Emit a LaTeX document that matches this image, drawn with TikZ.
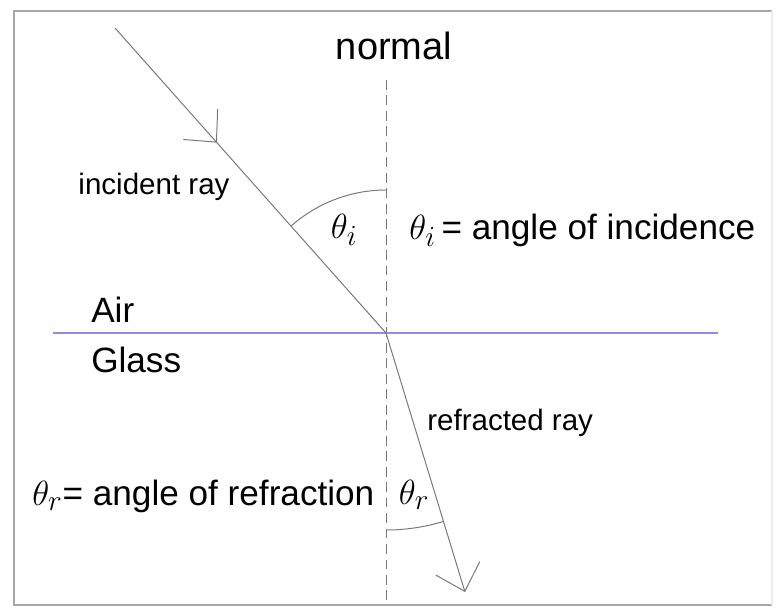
\documentclass[tikz,border=0pt]{standalone}
\usepackage{fontspec}
\setmainfont{Liberation Sans}
\usepackage{xcolor}
\usepackage{tikz}
\usetikzlibrary{arrows.meta, decorations.markings}
\definecolor{iface}{RGB}{140,140,235}
\definecolor{raygray}{RGB}{120,120,120}
\tikzstyle{lbl} = [inner sep=0pt, font=\fontsize{25}{30}\selectfont]
\tikzstyle{ray} = [draw=raygray, line width=0.7pt]
\newcommand{\bigth}[1]{{\fontsize{28}{30}\selectfont$\theta_{#1}$}}

\begin{document}
\begin{tikzpicture}[x=0.025cm, y=0.025cm,
  lbl/.style={inner sep=0pt, font=\fontsize{25}{30}\selectfont},
  small/.style={inner sep=0pt, font=\fontsize{21}{25}\selectfont},
  greek/.style={inner sep=0pt, font=\fontsize{28}{30}\selectfont},
  ray/.style={draw=raygray, line width=0.7pt},
  frame/.style={draw=gray!70, line width=1.2pt}]

\useasboundingbox (0,0) rectangle (780,608);

% frame
\draw [frame] (772,3) -- (14,3) -- (14,597) -- (772,597);
\draw [draw=gray!15, line width=1pt] (772,3) -- (772,597);

% points of the rays
\coordinate (src) at (115,580);
\coordinate (O) at (386,275);
\coordinate (dst) at (465,16);
\coordinate (ntop) at (386,528);
\coordinate (nbot) at (386,6);
\coordinate (ileft) at (53,275);
\coordinate (iright) at (718,275);

% normal and interface
\draw [draw=raygray, line width=0.7pt, dash pattern=on 7pt off 4pt] (ntop) -- (nbot);
\draw [draw=iface, line width=1.3pt] (ileft) -- (iright);

% rays
\draw [ray, postaction={decorate}, decoration={markings,
  mark=at position 0.376 with {\arrow[raygray]{Straight Barb[length=0.6cm, width=1.15cm]}}}]
  (src) -- (O);
\draw [ray, -{Straight Barb[length=0.6cm, width=1.15cm]}] (O) -- (dst);

% angles
\draw [ray] (O) ++(0,143) arc (90:131.6:143);
\draw [ray] (O) ++(0,-197) arc (270:287:197);

% labels
\node (normallbl) [inner sep=0pt, font=\fontsize{27}{32}\selectfont] at (394,562) {normal};
\node (incidentlbl) [small] at (154,421) {incident ray};
\node (thetaI) [greek] at (344,378) {$\theta_i$};
\node (incidence) [lbl, anchor=west] at (409,378) {\bigth{i}\,= angle of incidence};
\node (air) [lbl, anchor=west] at (91,298) {Air};
\node (glass) [lbl, anchor=west] at (91,248) {Glass};
\node (refractedlbl) [small, anchor=west] at (427,185) {refracted ray};
\node (refraction) [lbl, anchor=west] at (32,112) {\bigth{r}= angle of refraction};
\node (thetaR) [greek] at (414,113) {$\theta_r$};

\end{tikzpicture}
\end{document}
